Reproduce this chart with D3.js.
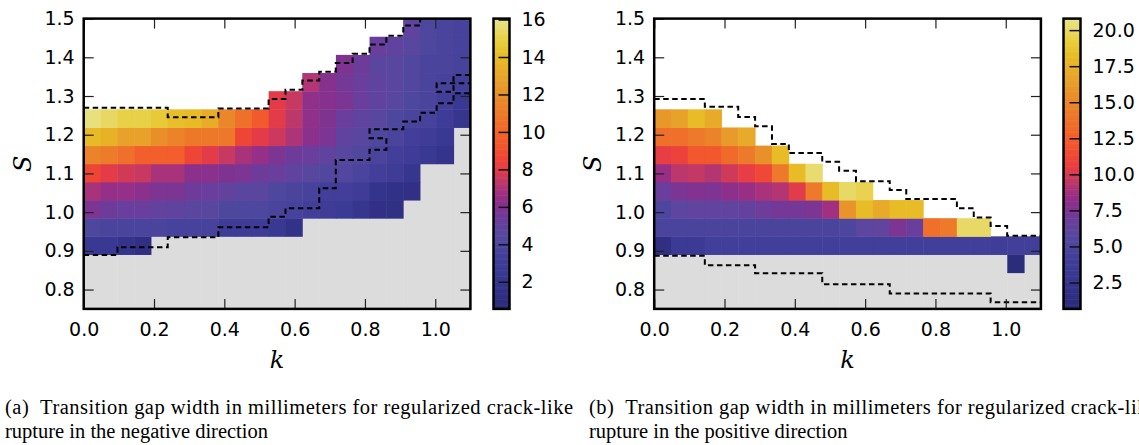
<!DOCTYPE html>
<html><head><meta charset="utf-8">
<script src="https://cdn.jsdelivr.net/npm/d3@7/dist/d3.min.js"></script>
<style>
body{margin:0;background:#fff}
svg{display:block}
.tick text{font-family:"DejaVu Sans",sans-serif;font-size:19px;fill:#000}
.cap{font-family:"Liberation Serif","Times New Roman",serif;font-size:20.5px;fill:#000;white-space:pre}
.lab{font-family:"DejaVu Serif","Liberation Serif",serif;font-style:italic;font-size:24px;fill:#000}
</style>
</head><body>
<svg id="c" width="1139" height="445"></svg>
<script>
// ---------- data ----------
const kValues = [0,0.05,0.1,0.15,0.2,0.25,0.3,0.35,0.4,0.45,0.5,0.55,0.6,0.65,0.7,0.75,0.8,0.85,0.9,0.95,1.0,1.05,1.1];
const sValues = [0.75,0.8,0.85,0.9,0.95,1.0,1.05,1.1,1.15,1.2,1.25,1.3,1.35,1.4,1.45,1.5];
const xTicks = [0,0.2,0.4,0.6,0.8,1.0];
const yTicks = [0.8,0.9,1.0,1.1,1.2,1.3,1.4,1.5];
const cbTicksNeg = [2,4,6,8,10,12,14,16];
const cbTicksPos = [2.5,5,7.5,10,12.5,15,17.5,20];
const cbRangeNeg = [0.55,16.05];
const cbRangePos = [0.67,20.8];
const _ = null;

// rows ordered from S=0.75 (first) to S=1.5 (last); columns follow kValues
const gapNegative = [
 [_,_,_,_,_,_,_,_,_,_,_,_,_,_,_,_,_,_,_,_,_,_,_],
 [_,_,_,_,_,_,_,_,_,_,_,_,_,_,_,_,_,_,_,_,_,_,_],
 [_,_,_,_,_,_,_,_,_,_,_,_,_,_,_,_,_,_,_,_,_,_,_],
 [2.4,2.4,1.8,1.2,_,_,_,_,_,_,_,_,_,_,_,_,_,_,_,_,_,_,_],
 [4.0,3.8,3.8,3.8,3.8,3.6,3.6,3.6,2.9,2.9,2.9,2.4,1.6,_,_,_,_,_,_,_,_,_,_],
 [5.8,5.4,5.3,5.3,5.0,4.9,4.7,4.6,4.0,4.0,4.0,3.8,3.6,3.3,2.9,2.6,2.1,1.4,1.3,_,_,_,_],
 [6.9,6.5,6.5,6.2,5.8,5.8,5.4,5.3,5.0,4.7,4.7,4.0,3.8,3.6,3.3,3.3,2.9,1.8,1.5,1.4,_,_,_],
 [8.6,8.0,7.7,7.5,6.9,6.9,6.2,6.2,5.9,5.8,5.4,5.3,4.9,4.6,4.2,4.2,3.8,3.3,2.9,2.1,_,_,_],
 [11.4,11.1,10.5,9.7,9.7,9.7,8.6,8.0,7.5,6.9,6.5,5.8,5.4,5.3,4.9,4.6,4.2,3.8,3.3,2.9,2.4,1.8,_],
 [14.0,13.6,12.8,12.8,12.0,11.4,10.9,10.9,10.9,8.6,8.0,7.6,7.0,6.2,5.8,4.9,4.6,4.0,3.8,3.3,2.9,2.4,_],
 [15.8,15.4,15.0,15.0,14.7,14.2,14.0,13.3,11.6,10.5,9.5,8.0,7.3,6.3,5.9,5.3,4.9,4.6,4.0,3.8,3.6,2.9,2.1],
 [_,_,_,_,_,_,_,_,_,_,_,8.0,7.5,6.3,6.1,5.8,5.3,4.9,4.6,4.0,3.8,3.3,2.4],
 [_,_,_,_,_,_,_,_,_,_,_,_,_,7.1,6.1,5.6,5.3,4.9,4.6,4.2,3.8,3.6,3.3],
 [_,_,_,_,_,_,_,_,_,_,_,_,_,_,_,5.9,5.4,4.7,4.6,4.2,3.8,3.8,3.6],
 [_,_,_,_,_,_,_,_,_,_,_,_,_,_,_,_,_,5.3,4.9,4.6,4.0,3.8,3.6],
 [_,_,_,_,_,_,_,_,_,_,_,_,_,_,_,_,_,_,_,4.9,4.0,3.8,3.6]
];

const gapPositive = [
 [_,_,_,_,_,_,_,_,_,_,_,_,_,_,_,_,_,_,_,_,_,_,_],
 [_,_,_,_,_,_,_,_,_,_,_,_,_,_,_,_,_,_,_,_,_,_,_],
 [_,_,_,_,_,_,_,_,_,_,_,_,_,_,_,_,_,_,_,_,_,0.9,_],
 [1.5,3.3,3.3,4.3,4.3,4.3,4.3,4.3,4.3,4.3,4.3,4.3,4.3,4.3,4.3,4.3,4.3,4.3,4.3,4.3,4.0,4.3,4.3],
 [4.9,4.9,4.9,4.9,4.9,4.9,4.9,4.9,4.9,4.9,4.9,5.1,6.1,6.3,7.5,6.8,13.6,14.2,20.0,20.0,_,_,_],
 [5.1,6.1,6.3,6.3,6.3,6.5,7.0,7.3,7.3,7.5,8.7,15.8,18.2,17.2,18.2,18.2,_,_,_,_,_,_,_],
 [6.8,7.5,7.7,7.6,8.1,8.5,8.9,9.2,10.3,14.2,18.2,20.0,19.6,_,_,_,_,_,_,_,_,_,_],
 [8.5,9.4,9.6,9.2,9.9,10.5,11.3,14.2,18.2,20.2,_,_,_,_,_,_,_,_,_,_,_,_,_],
 [10.5,10.9,12.2,12.2,13.3,14.2,15.6,18.2,_,_,_,_,_,_,_,_,_,_,_,_,_,_,_],
 [13.6,13.6,14.2,14.8,16.2,17.2,_,_,_,_,_,_,_,_,_,_,_,_,_,_,_,_,_],
 [16.0,16.6,18.2,17.2,_,_,_,_,_,_,_,_,_,_,_,_,_,_,_,_,_,_,_],
 [_,_,_,_,_,_,_,_,_,_,_,_,_,_,_,_,_,_,_,_,_,_,_],
 [_,_,_,_,_,_,_,_,_,_,_,_,_,_,_,_,_,_,_,_,_,_,_],
 [_,_,_,_,_,_,_,_,_,_,_,_,_,_,_,_,_,_,_,_,_,_,_],
 [_,_,_,_,_,_,_,_,_,_,_,_,_,_,_,_,_,_,_,_,_,_,_],
 [_,_,_,_,_,_,_,_,_,_,_,_,_,_,_,_,_,_,_,_,_,_,_]
];

// dashed boundaries, [k, S] vertices
const negUpperBoundary = [[0,1.270],[0.239,1.270],[0.239,1.245],[0.383,1.245],[0.383,1.268],[0.526,1.268],[0.526,1.292],[0.574,1.292],[0.574,1.316],[0.622,1.316],[0.622,1.340],[0.670,1.340],[0.670,1.363],[0.717,1.363],[0.717,1.385],[0.765,1.385],[0.765,1.409],[0.813,1.409],[0.813,1.433],[0.861,1.433],[0.861,1.456],[0.909,1.456],[0.909,1.482],[0.957,1.482],[0.957,1.5]];
const negLowerBoundary = [[0,0.889],[0.096,0.889],[0.096,0.909],[0.239,0.909],[0.239,0.935],[0.383,0.935],[0.383,0.961],[0.526,0.961],[0.526,0.988],[0.574,0.988],[0.574,1.010],[0.670,1.010],[0.670,1.062],[0.717,1.062],[0.717,1.135],[0.813,1.135],[0.813,1.161],[0.861,1.161],[0.861,1.191],[0.813,1.191],[0.813,1.214],[0.909,1.214],[0.909,1.234],[0.957,1.234],[0.957,1.257],[1.004,1.257],[1.004,1.281],[1.052,1.281],[1.052,1.307],[1.1,1.307]];
const negIsland = [[1.1,1.354],[1.052,1.354],[1.052,1.311],[1.004,1.311],[1.004,1.333],[1.1,1.333]];
const posUpperBoundary = [[0,1.292],[0.144,1.292],[0.144,1.272],[0.239,1.272],[0.239,1.246],[0.287,1.246],[0.287,1.222],[0.335,1.222],[0.335,1.176],[0.383,1.176],[0.383,1.153],[0.478,1.153],[0.478,1.130],[0.526,1.130],[0.526,1.107],[0.574,1.107],[0.574,1.080],[0.670,1.080],[0.670,1.057],[0.717,1.057],[0.717,1.034],[0.861,1.034],[0.861,1.010],[0.909,1.010],[0.909,0.986],[0.957,0.986],[0.957,0.964],[1.004,0.964],[1.004,0.939],[1.1,0.939]];
const posLowerBoundary = [[0,0.887],[0.144,0.887],[0.144,0.863],[0.287,0.863],[0.287,0.842],[0.478,0.842],[0.478,0.814],[0.670,0.814],[0.670,0.790],[0.957,0.790],[0.957,0.767],[1.1,0.767]];

// colormap (position 0..1 along colorbar -> colour)
const cmapPos = [0,0.01,0.07,0.126,0.184,0.223,0.264,0.31,0.353,0.39,0.425,0.46,0.483,0.517,0.563,0.61,0.667,0.741,0.793,0.871,0.92,0.977,1];
const cmapCol = ["#2a2a7a","#2c2c7c","#33328a","#3a3a94","#433f9a","#4e479e","#5a479f","#6b3d9c","#84318f","#9a2f85","#b43672","#d03a58","#e53c46","#ef4438","#f2552e","#f2652a","#ed782a","#e8902a","#e8a22a","#e8bc26","#e8cc3a","#e8de78","#e8e488"];

const captionA = ["(a)  Transition gap width in millimeters for regularized crack-like", "rupture in the negative direction"];
const captionB = ["(b)  Transition gap width in millimeters for regularized crack-like", "rupture in the positive direction"];

// ---------- drawing ----------
const svg = d3.select("#c");
const cmap = d3.scaleLinear().domain(cmapPos).range(cmapCol).interpolate(d3.interpolateRgb).clamp(true);
const yTop = 18.6, yBot = 308.9;

function panel(o){
  const g = svg.append("g");
  const xLin = d3.scaleLinear().domain([0,1.1]).range([o.x0,o.x1]);
  const yLin = d3.scaleLinear().domain([0.75,1.5]).range([yBot,yTop]);
  const xB = d3.scaleBand().domain(kValues).range([o.x0,o.x1]);
  const yB = d3.scaleBand().domain(sValues).range([yBot,yTop]);
  const col = v => cmap((v - o.range[0])/(o.range[1]-o.range[0]));

  const clipId = "clip"+o.id;
  svg.append("clipPath").attr("id",clipId).append("rect")
    .attr("x",o.x0).attr("y",yTop).attr("width",o.x1-o.x0).attr("height",yBot-yTop);

  const pg = g.append("g").attr("clip-path",`url(#${clipId})`);
  pg.append("rect").attr("x",o.x0).attr("y",yTop).attr("width",o.x1-o.x0).attr("height",yBot-yTop).attr("fill","#fff");
  // grey below lowest data cell of each column
  kValues.forEach((k,i)=>{
    const rows = d3.range(sValues.length).filter(j=>o.grid[j][i]!==null);
    if(!rows.length) return;
    const yb = yB(sValues[d3.min(rows)]) + yB.bandwidth();
    pg.append("rect").attr("x",xB(k)).attr("y",yb).attr("width",xB.bandwidth()+0.5).attr("height",yBot-yb).attr("fill","#dcdcdc");
  });
  const cells = [];
  o.grid.forEach((row,j)=>row.forEach((v,i)=>{ if(v!==null) cells.push({k:kValues[i],s:sValues[j],v}); }));
  pg.selectAll("rect.cell").data(cells).enter().append("rect").attr("class","cell")
    .attr("x",d=>xB(d.k)).attr("y",d=>yB(d.s))
    .attr("width",xB.bandwidth()+0.5).attr("height",yB.bandwidth()+0.5)
    .attr("fill",d=>col(d.v));
  const line = d3.line().x(d=>xLin(d[0])).y(d=>yLin(d[1]));
  o.dashed.forEach(p=>{
    pg.append("path").attr("d",line(p)).attr("fill","none").attr("stroke","#000")
      .attr("stroke-width",2).attr("stroke-dasharray","5.5,3.5");
  });

  // axes (ticks inward on all four sides)
  const fmt = d3.format(".1f");
  const styleAx = a => { a.select(".domain").remove(); a.selectAll(".tick line").attr("stroke","#222").attr("stroke-width",1.2); };
  g.append("g").attr("transform",`translate(0,${yBot})`)
    .call(d3.axisBottom(xLin).tickValues(xTicks).tickFormat(fmt).tickSizeInner(-10).tickSizeOuter(0).tickPadding(14)).call(styleAx);
  g.append("g").attr("transform",`translate(0,${yTop})`)
    .call(d3.axisTop(xLin).tickValues(xTicks).tickFormat("").tickSizeInner(-10).tickSizeOuter(0)).call(styleAx);
  g.append("g").attr("transform",`translate(${o.x0},0)`)
    .call(d3.axisLeft(yLin).tickValues(yTicks).tickFormat(fmt).tickSizeInner(-10).tickSizeOuter(0).tickPadding(9)).call(styleAx);
  g.append("g").attr("transform",`translate(${o.x1},0)`)
    .call(d3.axisRight(yLin).tickValues(yTicks).tickFormat("").tickSizeInner(-10).tickSizeOuter(0)).call(styleAx);
  g.selectAll(".tick text").attr("font-size",19).attr("font-family","DejaVu Sans");

  g.append("rect").attr("x",o.x0).attr("y",yTop).attr("width",o.x1-o.x0).attr("height",yBot-yTop)
    .attr("fill","none").attr("stroke","#000").attr("stroke-width",2.5);

  // axis labels
  g.append("text").attr("class","lab").attr("x",xLin(0.55)).attr("y",368).attr("text-anchor","middle").text("k");
  g.append("text").attr("class","lab").attr("transform",`translate(${o.x0-53},${yLin(1.125)}) rotate(-90)`)
    .attr("text-anchor","middle").text("S");

  // colorbar
  const cy = d3.scaleLinear().domain(o.range).range([yBot,yTop]);
  const cb = svg.append("g");
  const N = 240, step = (o.range[1]-o.range[0])/N;
  const vals = d3.range(N).map(i=>o.range[0]+i*step);
  cb.selectAll("rect.s").data(vals).enter().append("rect").attr("class","s")
    .attr("x",o.cbx0).attr("width",o.cbx1-o.cbx0)
    .attr("y",d=>cy(d+step)).attr("height",d=>cy(d)-cy(d+step)+0.6)
    .attr("fill",d=>col(d+step/2));
  const ca = cb.append("g").attr("transform",`translate(${o.cbx1},0)`)
    .call(d3.axisRight(cy).tickValues(o.cbTicks).tickFormat(o.cbFmt).tickSizeInner(-11).tickSizeOuter(0).tickPadding(12));
  ca.select(".domain").remove();
  ca.selectAll(".tick line").attr("stroke","#111").attr("stroke-width",1.5);
  ca.selectAll(".tick text").attr("font-size",19).attr("font-family","DejaVu Sans");
  cb.append("rect").attr("x",o.cbx0).attr("y",yTop).attr("width",o.cbx1-o.cbx0).attr("height",yBot-yTop)
    .attr("fill","none").attr("stroke","#000").attr("stroke-width",2.5);

  // caption
  svg.append("text").attr("class","cap").attr("x",o.capX).attr("y",414)
    .attr("textLength",568).attr("lengthAdjust","spacing").text(o.caption[0]);
  svg.append("text").attr("class","cap").attr("x",o.capX).attr("y",438).text(o.caption[1]);
}

panel({id:"a",x0:83.7,x1:470.4,grid:gapNegative,range:cbRangeNeg,
  dashed:[negUpperBoundary,negLowerBoundary,negIsland],
  cbx0:493.5,cbx1:509.5,cbTicks:cbTicksNeg,cbFmt:d3.format("d"),caption:captionA,capX:5});
panel({id:"b",x0:654.2,x1:1040.9,grid:gapPositive,range:cbRangePos,
  dashed:[posUpperBoundary,posLowerBoundary],
  cbx0:1063.5,cbx1:1080.5,cbTicks:cbTicksPos,cbFmt:d3.format(".1f"),caption:captionB,capX:589});
</script>
</body></html>
